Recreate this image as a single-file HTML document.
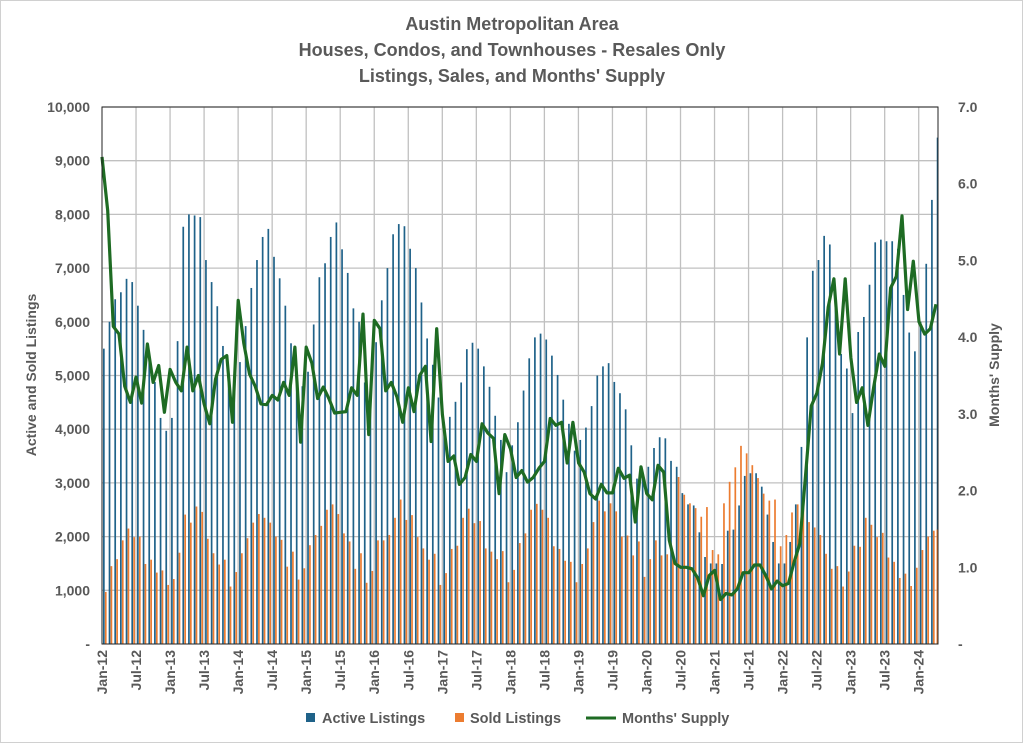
<!DOCTYPE html>
<html><head><meta charset="utf-8">
<style>
html,body{margin:0;padding:0;background:#fff;}
body{width:1023px;height:743px;overflow:hidden;font-family:"Liberation Sans",sans-serif;}
svg text{font-family:"Liberation Sans",sans-serif;fill:#595959;}
</style></head><body>
<svg id="c" width="1023" height="743" viewBox="0 0 1023 743" xmlns="http://www.w3.org/2000/svg">
<rect x="0.5" y="0.5" width="1022" height="742" fill="#fff" stroke="#d0d0d0"/>
<text x="512" y="30" text-anchor="middle" font-size="18" font-weight="bold">Austin Metropolitan Area</text>
<text x="512" y="56" text-anchor="middle" font-size="18" font-weight="bold">Houses, Condos, and Townhouses - Resales Only</text>
<text x="512" y="82" text-anchor="middle" font-size="18" font-weight="bold">Listings, Sales, and Months' Supply</text>
<g id="grid"></g>
<g id="bars"></g>
<polyline id="line" fill="none" stroke="#1e6b23" stroke-width="3.2" stroke-linejoin="round"/>
<rect x="102" y="107" width="836" height="537" fill="none" stroke="#222" stroke-width="1"/>
<g id="ylab" font-size="14" font-weight="bold"></g>
<g id="xlab" font-size="14" font-weight="bold"></g>
<text transform="translate(36,375) rotate(-90)" text-anchor="middle" font-size="14" font-weight="bold">Active and Sold Listings</text>
<text transform="translate(999,375) rotate(-90)" text-anchor="middle" font-size="14" font-weight="bold">Months' Supply</text>
<rect x="306" y="713" width="9" height="9" fill="#1f6289"/>
<text x="322" y="723" font-size="14.5" font-weight="bold">Active Listings</text>
<rect x="455" y="713" width="9" height="9" fill="#ec7c30"/>
<text x="470" y="723" font-size="14.5" font-weight="bold">Sold Listings</text>
<line x1="586" y1="718" x2="616" y2="718" stroke="#1e6b23" stroke-width="3"/>
<text x="622" y="723" font-size="14.5" font-weight="bold">Months' Supply</text>
</svg>
<script>
var NS="http://www.w3.org/2000/svg";
function el(p,t,a,txt){var e=document.createElementNS(NS,t);for(var k in a)e.setAttribute(k,a[k]);if(txt!==undefined)e.textContent=txt;p.appendChild(e);return e;}
var A=[5500,6000,6420,6550,6800,6740,6300,5850,5360,4880,4210,3970,
4210,5640,7770,8000,7980,7950,7150,6740,6290,5550,5000,4830,
5250,5920,6630,7150,7580,7730,7210,6810,6300,5600,5000,4800,
5070,5950,6830,7090,7580,7850,7350,6910,6250,6000,4870,4500,5620,
6400,7000,7630,7820,7780,7360,7000,6360,5690,5200,4590,4130,4230,4510,4870,5490,5610,5500,5170,4790,4250,3800,3200,3700,4130,4720,5320,5710,5780,5670,5370,5010,4550,4100,3600,3800,4030,4430,5000,5170,5230,4880,4670,4370,3700,3080,3200,3300,3650,3850,
3830,3410,3300,2810,2600,2580,2080,1620,1500,1500,1490,2110,2130,2580,3130,3180,3180,2930,2410,1900,1500,1500,1900,2600,3670,5710,6950,7150,7600,7440,6500,5400,5130,4300,5810,6090,6690,7480,7530,7500,7500,7360,6500,5800,5450,6000,7080,8270,9430];
var S=[970,1450,1580,1930,2150,1990,2000,1490,1570,1330,1370,1100,
1210,1700,2410,2260,2560,2460,1960,1690,1480,1570,1070,1340,
1690,1970,2260,2420,2350,2260,2000,1940,1440,1720,1200,1410,
1840,2030,2200,2500,2600,2420,2060,1910,1400,1690,1140,1360,1930,
1930,2030,2350,2690,2310,2400,1990,1780,1570,1680,1100,1320,1770,1830,2350,2520,2250,2290,1780,1720,1580,1730,1150,1380,1880,2060,2500,2610,2500,2350,1820,1770,1550,1530,1150,1490,1780,2270,2670,2470,2620,2470,2000,2020,1650,1910,1250,1580,1930,1650,
1670,1680,3110,2780,2620,2530,2370,2550,1750,1670,2620,3020,3290,3690,3550,3330,3090,2800,2670,2690,1820,2030,2450,2600,2820,2270,2170,2030,1680,1400,1450,1070,1350,1830,1810,2350,2220,1990,2070,1610,1530,1230,1310,1080,1420,1750,2000,2110,2130];
var M=[6.35,5.65,4.14,4.04,3.36,3.15,3.48,3.14,3.91,3.41,3.63,3.02,3.58,3.41,3.30,3.87,3.30,3.50,3.13,2.87,3.45,3.71,3.76,2.89,4.48,3.92,3.52,3.36,3.13,3.12,3.24,3.18,3.41,3.24,3.87,2.63,3.87,3.66,3.20,3.35,3.20,3.01,3.02,3.03,3.34,3.24,4.30,2.73,4.22,4.11,3.30,
3.41,3.22,2.89,3.34,3.03,3.50,3.62,2.64,4.11,2.99,2.38,2.45,2.08,2.17,2.47,2.38,2.87,2.75,2.68,1.96,2.73,2.54,2.17,2.26,2.11,2.17,2.29,2.38,2.94,2.85,2.89,2.36,2.89,2.36,2.24,1.96,1.89,2.08,1.97,1.97,2.29,2.16,2.20,1.59,2.31,1.96,1.88,2.33,2.24,1.35,
1.05,1.00,1.00,0.98,0.86,0.63,0.89,0.96,0.58,0.66,0.64,0.72,0.93,0.93,1.03,1.03,0.89,0.72,0.82,0.76,0.79,1.07,1.31,2.19,3.10,3.27,3.66,4.39,4.76,3.78,4.76,3.73,3.15,3.34,2.85,3.34,3.78,3.62,4.64,4.79,5.58,4.36,4.99,4.20,4.04,4.11,4.43];
var X0=102,X1=938,Y0=644,Y1=107,dx=(X1-X0)/147.4;
var g=document.getElementById('grid');
for(var v=1;v<=10;v++){var y=Y0-(Y0-Y1)*v/10;el(g,'line',{x1:X0,x2:X1,y1:y,y2:y,stroke:'#c0c0c0','stroke-width':1.3});}
for(var k=1;k<=24;k++){var x=X0+dx*6*k;el(g,'line',{x1:x,x2:x,y1:Y1,y2:Y0,stroke:'#c0c0c0','stroke-width':1.3});}
var b=document.getElementById('bars');
for(var i=0;i<148;i++){var x=X0+1+dx*i;
 var a=A[i]||0,s=S[i]||0;
 var ha=a*(Y0-Y1)/10000,hs=s*(Y0-Y1)/10000;
 el(b,'rect',{x:x,y:Y0-ha,width:1.7,height:ha,fill:'#1f6289'});
 el(b,'rect',{x:Math.min(x+1.9,936.5),y:Y0-hs,width:1.7,height:hs,fill:'#ec7c30'});
}
var pts=[];var n=M.length;
for(var i=0;i<n;i++){var x=X0+(X1-2-X0)*i/(n-1);pts.push(x.toFixed(1)+','+(Y0-M[i]*(Y0-Y1)/7).toFixed(1));}
document.getElementById('line').setAttribute('points',pts.join(' '));
var yl=document.getElementById('ylab');
var L=['-','1,000','2,000','3,000','4,000','5,000','6,000','7,000','8,000','9,000','10,000'];
for(var v=0;v<=10;v++){var y=Y0-(Y0-Y1)*v/10+5;el(yl,'text',{x:90,y:y,'text-anchor':'end'},L[v]);}
for(var v=0;v<=7;v++){var y=Y0-(Y0-Y1)*v/7+5;el(yl,'text',{x:958,y:y,'text-anchor':'start'},v==0?'-':v.toFixed(1));}
var xl=document.getElementById('xlab');
for(var k=0;k<=24;k++){var yr=12+Math.floor(k/2);var lab=(k%2?'Jul-':'Jan-')+yr;var x=X0+dx*6*k+5;
 el(xl,'text',{transform:'translate('+x.toFixed(1)+',650) rotate(-90)','text-anchor':'end'},lab);}
</script>
</body></html>
